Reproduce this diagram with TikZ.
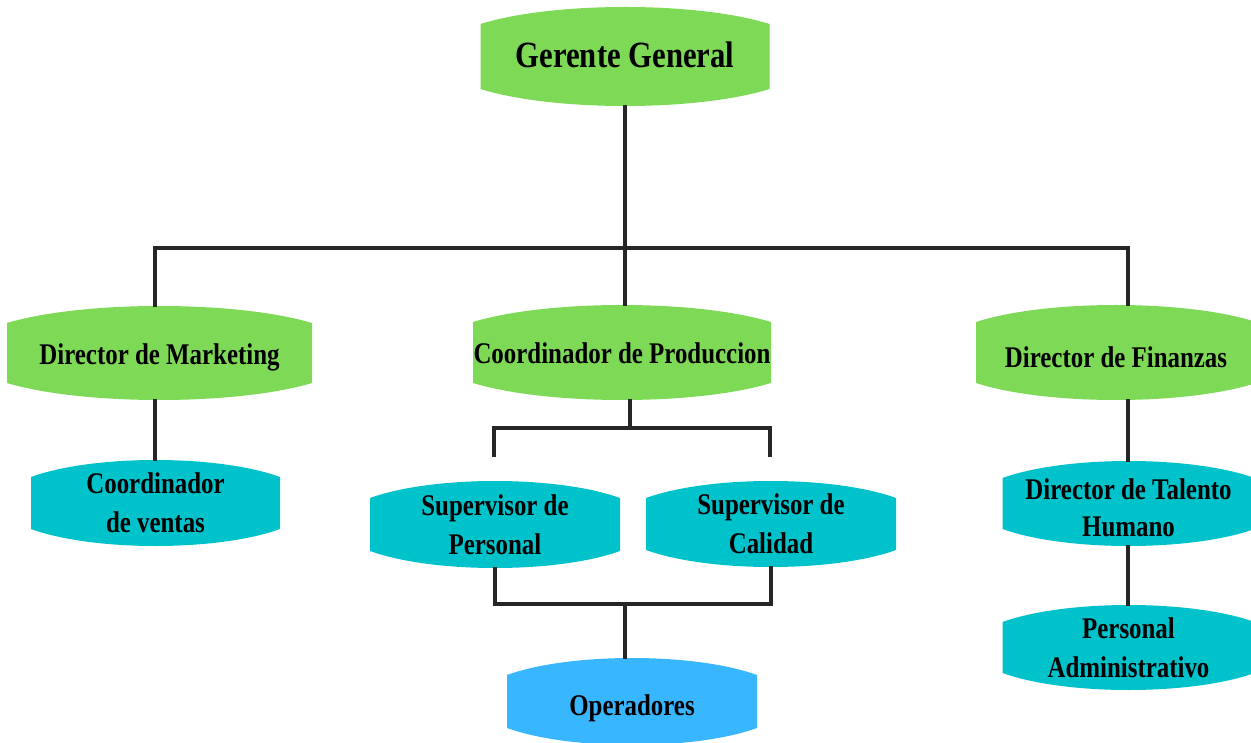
\documentclass[tikz,border=0pt]{standalone}
\usepackage{fontspec}
\usetikzlibrary{calc}
\newfontfamily\orgfont{Liberation Serif}[FakeStretch=0.83]

\definecolor{leafgreen}{HTML}{7ED957}
\definecolor{teal}{HTML}{00C2CB}
\definecolor{skyblue}{HTML}{38B6FF}
\definecolor{linegray}{HTML}{262626}

\tikzset{
  % box with vertical sides and bowed top and bottom edges
  orgbox/.style={rectangle, inner sep=0pt, text=black, align=center,
    font=\orgfont\bfseries\fontsize{30}{39}\selectfont,
    path picture={
      \fill[#1] let \p1=(path picture bounding box.north west),
                    \p2=(path picture bounding box.south east) in
        (\x1,\y1-17pt)
        .. controls ({0.75*\x1+0.25*\x2},\y1+5.67pt) and ({0.25*\x1+0.75*\x2},\y1+5.67pt) ..
        (\x2,\y1-17pt) -- (\x2,\y2+17pt)
        .. controls ({0.25*\x1+0.75*\x2},\y2-5.67pt) and ({0.75*\x1+0.25*\x2},\y2-5.67pt) ..
        (\x1,\y2+17pt) -- cycle;
    }},
  % single line labels: baseline placed by the given text height
  oneline/.style={text height=#1, text depth=0pt},
  conn/.style={draw=linegray, line width=3.2pt, line cap=rect}
}

\begin{document}
\begin{tikzpicture}[x=1pt, y=-1pt]
\useasboundingbox (0,0) rectangle (1251,743);
\clip (0,0) rectangle (1251,743);
\fill[white] (0,0) rectangle (1251,743);

% top level
\node[orgbox=leafgreen, minimum width=289pt, minimum height=99pt, oneline=23pt,
      font=\orgfont\bfseries\fontsize{37}{44}\selectfont] (gerente) at (625,56.5) {Gerente General};

% second level
\node[orgbox=leafgreen, minimum width=305pt, minimum height=94pt, oneline=24pt] (marketing) at (159.5,353) {Director de Marketing};
\node[orgbox=leafgreen, minimum width=298pt, minimum height=95pt, oneline=21pt] (produccion) at (622,352.5) {Coordinador de Produccion};
\node[orgbox=leafgreen, minimum width=280pt, minimum height=95pt, oneline=31pt] (finanzas) at (1116,352.5) {Director de Finanzas};

% third level
\node[orgbox=teal, minimum width=249pt, minimum height=86pt] (ventas) at (155.5,503) {Coordinador\\de ventas};
\node[orgbox=teal, minimum width=250pt, minimum height=87pt] (supPersonal) at (495,524.5) {Supervisor de\\Personal};
\node[orgbox=teal, minimum width=250pt, minimum height=86pt] (supCalidad) at (771,524) {Supervisor de\\Calidad};
\node[orgbox=teal, minimum width=252pt, minimum height=85pt,
      font=\orgfont\bfseries\fontsize{30}{37}\selectfont] (talento) at (1128.5,503.5) {\rule{0pt}{29pt}Director de Talento\\Humano};

% fourth level
\node[orgbox=teal, minimum width=252pt, minimum height=85pt] (persAdm) at (1128.5,647.5) {Personal\\Administrativo};
\node[orgbox=skyblue, minimum width=250pt, minimum height=87pt, oneline=27pt] (operadores) at (632,701.5) {Operadores};

% main bus under the general manager
\coordinate (busL) at (155,248);
\coordinate (busR) at (1128,248);
\draw[conn] (gerente.south) -- (gerente.south |- busL);
\draw[conn] (busL |- marketing.north) -- (busL) -- (busR) -- (busR |- finanzas.north);
\draw[conn] (gerente.south |- busL) -- (gerente.south |- produccion.north);

% marketing branch
\draw[conn] (marketing.south -| busL) -- (ventas.north -| busL);

% production bracket (open ends above the supervisors)
\coordinate (pj) at (630,428);
\coordinate (pl) at (494,455);
\coordinate (pr) at (770,455);
\draw[conn] (pj |- produccion.south) -- (pj);
\draw[conn] (pl) |- (pj) -| (pr);

% supervisors join down to the operators
\coordinate (sj) at (625,604);
\draw[conn] (supPersonal.south) |- (sj) -| (supCalidad.south);
\draw[conn] (sj) -- (sj |- operadores.north);

% finance branch
\draw[conn] (finanzas.south -| busR) -- (talento.north -| busR);
\draw[conn] (talento.south -| busR) -- (persAdm.north -| busR);
\end{tikzpicture}
\end{document}
